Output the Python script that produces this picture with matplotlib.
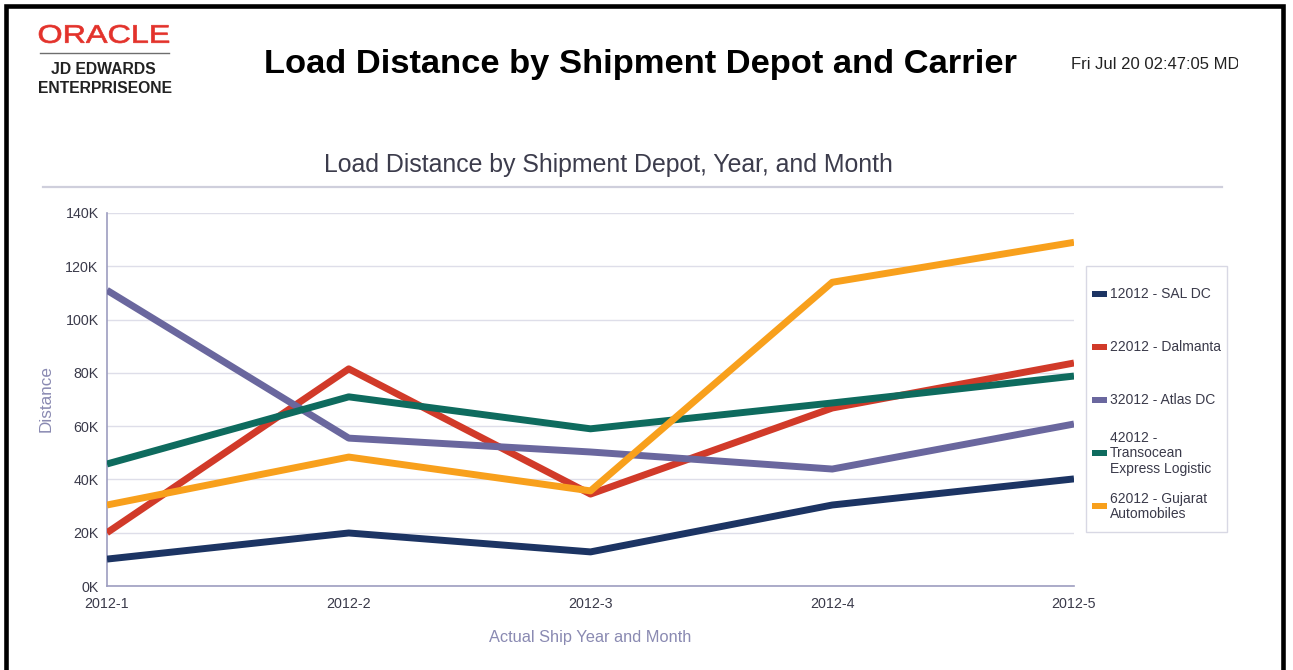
import matplotlib
matplotlib.use("Agg")
import matplotlib.pyplot as plt
from matplotlib.patches import Rectangle, PathPatch
from matplotlib.lines import Line2D
from matplotlib.textpath import TextPath
from matplotlib.font_manager import FontProperties
from matplotlib.transforms import Affine2D
from matplotlib.ticker import FuncFormatter

plt.rcParams['font.family'] = ['Liberation Sans', 'DejaVu Sans']

# Data (distance in K)
months = ['2012-1', '2012-2', '2012-3', '2012-4', '2012-5']
sal_dc = [10.1, 19.9, 12.8, 30.4, 40.2]
dalmanta = [20.0, 81.5, 34.5, 66.8, 83.7]
atlas_dc = [111.0, 55.5, 50.3, 43.9, 60.8]
transocean = [45.8, 71.0, 59.0, 68.7, 78.8]
gujarat = [30.4, 48.4, 35.7, 114.0, 129.0]

series_names = ['12012 - SAL DC', '22012 - Dalmanta', '32012 - Atlas DC',
                '42012 -\nTransocean\nExpress Logistic', '62012 - Gujarat\nAutomobiles']
series_values = [sal_dc, dalmanta, atlas_dc, transocean, gujarat]
series_colors = ['#1c3463', '#d13a29', '#6a679e', '#0e6b5e', '#f8a01c']

W, H = 1293, 670
fig = plt.figure(figsize=(W / 100, H / 100), dpi=100)
fig.patch.set_facecolor('white')


def fx(px):
    return px / W


def fy(py):
    return 1 - py / H


# page border
fig.add_artist(Rectangle((fx(6), fy(690)), fx(1277), 690 / H - 5.5 / H, transform=fig.transFigure,
                         fill=False, ec='black', lw=3.3, clip_on=False))

# Oracle logo (stretched text path)
tp = TextPath((0, 0), "ORACLE", size=20, prop=FontProperties(family='Liberation Sans'))
bb = tp.get_extents()
tr = (Affine2D().translate(-bb.x0, -bb.y0)
      .scale((169 - 39) / bb.width / W, (43 - 25) / bb.height / H)
      .translate(fx(39), fy(43)) + fig.transFigure)
fig.add_artist(PathPatch(tp, transform=tr, fc='#e3322b', ec='#e3322b', lw=0.5))
fig.add_artist(Line2D([fx(40), fx(169)], [fy(53), fy(53)], transform=fig.transFigure,
                      color='#6e6e6e', lw=1))
fig.text(fx(103), fy(74), 'JD EDWARDS', ha='center', va='baseline', fontsize=11.3,
         fontweight='bold', color='#222222')
fig.text(fx(105), fy(93), 'ENTERPRISEONE', ha='center', va='baseline', fontsize=11.3,
         fontweight='bold', color='#222222')

# report title and timestamp
fig.text(fx(641), fy(73), 'Load Distance by Shipment Depot and Carrier', ha='center',
         va='baseline', fontsize=24.8, fontweight='bold', color='black')
stamp = fig.text(fx(1071), fy(69), 'Fri Jul 20 02:47:05 MDT 2018', ha='left', va='baseline',
                 fontsize=12, color='#222222')
clip = Rectangle((fx(1060), fy(90)), fx(178), 60 / H, transform=fig.transFigure)
stamp.set_clip_path(clip)

# chart subtitle and separator
fig.text(fx(608), fy(172), 'Load Distance by Shipment Depot, Year, and Month', ha='center',
         va='baseline', fontsize=17.9, color='#3c3c4c')
fig.add_artist(Line2D([fx(43), fx(1222)], [fy(187), fy(187)], transform=fig.transFigure,
                      color='#cfcfdc', lw=1.6))

# main axes
ax = fig.add_axes([fx(107), fy(586), fx(1074 - 107), (586 - 213) / H])
x = range(len(months))
for vals, col in zip(series_values, series_colors):
    ax.plot(x, [v * 1000 for v in vals], color=col, lw=5, solid_capstyle='butt', zorder=3)

ax.set_xlim(0, len(months) - 1)
ax.set_ylim(0, 140000)
ax.set_xticks(list(x))
ax.set_xticklabels(months)
ax.set_yticks(range(0, 140001, 20000))
ax.yaxis.set_major_formatter(FuncFormatter(lambda v, p: f'{v / 1000:.0f}K'))
ax.tick_params(length=0, labelsize=10.3, colors='#3a3a4a')
ax.tick_params(axis='x', pad=8)
ax.tick_params(axis='y', pad=6)
for s in ['top', 'right']:
    ax.spines[s].set_visible(False)
for s in ['left', 'bottom']:
    ax.spines[s].set_color('#9d9dc0')
    ax.spines[s].set_linewidth(1.2)
ax.grid(axis='y', color='#dedee9', lw=1)
ax.set_axisbelow(True)

ax.set_ylabel('Distance', fontsize=12.3, color='#8a8ab2')
ax.yaxis.set_label_coords(-0.063, 0.504)
ax.yaxis.label.set_va('center')
ax.set_xlabel('Actual Ship Year and Month', fontsize=11.8, color='#8a8ab2')
ax.xaxis.set_label_coords(0.5, -0.139)
ax.xaxis.label.set_va('center')

# legend box with evenly spaced entries
leg_l, leg_r, leg_t, leg_b = 1086, 1227, 266, 532
fig.add_artist(Rectangle((fx(leg_l), fy(leg_b)), fx(leg_r - leg_l), (leg_b - leg_t) / H,
                         transform=fig.transFigure, fill=False, ec='#d8d8e4', lw=1))
step = (leg_b - leg_t) / len(series_names)
for i, (name, col) in enumerate(zip(series_names, series_colors)):
    cy = leg_t + step * (i + 0.5) + 1
    fig.add_artist(Rectangle((fx(1092), fy(cy + 3)), fx(15), 6 / H, transform=fig.transFigure,
                             fc=col, ec='none'))
    fig.text(fx(1110), fy(cy), name, ha='left', va='center', fontsize=10, color='#3a3a4a',
             linespacing=1.15)

fig.savefig('out.png', dpi=100)
